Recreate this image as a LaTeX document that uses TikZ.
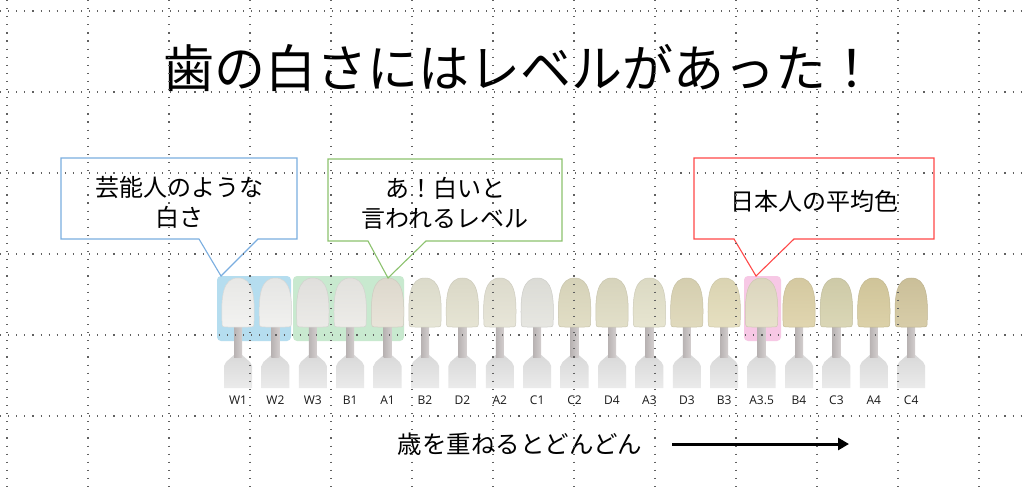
\documentclass[tikz,border=0pt]{standalone}
\usepackage{fontspec}
\setmainfont{Noto Sans CJK JP}
\newfontfamily\labfont{Open Sans}
\usetikzlibrary{arrows.meta}
\definecolor{hlblue}{HTML}{B5DDEF}
\definecolor{hlgreen}{HTML}{C8E9CF}
\definecolor{hlpink}{HTML}{F7C8E5}
\definecolor{cblue}{HTML}{7AAEE0}
\definecolor{cgreen}{HTML}{8CC26E}
\definecolor{cred}{HTML}{FF4848}
\definecolor{stemcol}{HTML}{C8C2C2}
\definecolor{tooth0}{HTML}{F1F1EF}
\definecolor{tooth1}{HTML}{EFEFED}
\definecolor{tooth2}{HTML}{E9E8E5}
\definecolor{tooth3}{HTML}{EBEAE6}
\definecolor{tooth4}{HTML}{E6E1D5}
\definecolor{tooth5}{HTML}{E4E3D2}
\definecolor{tooth6}{HTML}{E3E1CF}
\definecolor{tooth7}{HTML}{E5E3D4}
\definecolor{tooth8}{HTML}{E4E4DE}
\definecolor{tooth9}{HTML}{DEDABF}
\definecolor{tooth10}{HTML}{DFDCC3}
\definecolor{tooth11}{HTML}{E4E2CB}
\definecolor{tooth12}{HTML}{DDD6B6}
\definecolor{tooth13}{HTML}{E3DCB9}
\definecolor{tooth14}{HTML}{E4DEC5}
\definecolor{tooth15}{HTML}{DDD1A7}
\definecolor{tooth16}{HTML}{D6D2AE}
\definecolor{tooth17}{HTML}{D8CC9F}
\definecolor{tooth18}{HTML}{D3C79F}
\tikzset{
  gridline/.style={line width=1.15pt, black!62, dash pattern=on 1.15pt off 6.95pt},
  hlbox/.style={rounded corners=4pt},
  callout/.style={line width=1.1pt},
  ctext/.style={align=center, font=\fontsize{24}{30}\selectfont, inner sep=0pt},
  lbl/.style={font=\labfont\fontsize{12}{14}\selectfont, text=black!90, inner sep=0pt},
  crown/.style={insert path={
    (\cx-16,321) .. controls (\cx-17,296) and (\cx-15,278) .. (\cx,278)
    .. controls (\cx+15,278) and (\cx+17,296) .. (\cx+16,321)
    .. controls (\cx+16,327) .. (\cx+10,327) -- (\cx-10,327)
    .. controls (\cx-16,327) .. (\cx-16,321) -- cycle}},
}
\begin{document}
\begin{tikzpicture}[x=1pt,y=-1pt]
\useasboundingbox (0,0) rectangle (1024,494);
\fill[white] (0,0) rectangle (1024,494);

% title
\node[font=\fontsize{51}{60}\selectfont, inner sep=0pt] (title) at (520,68) {歯の白さにはレベルがあった！};

% highlight boxes
\fill[hlblue, hlbox] (217,276) rectangle (291,341);
\fill[hlgreen, hlbox] (293,276) rectangle (404,341);
\fill[hlpink, hlbox] (744,276) rectangle (781,341);

% teeth
\foreach \i/\nm in {0/W1,1/W2,2/W3,3/B1,4/A1,5/B2,6/D2,7/A2,8/C1,9/C2,10/D4,11/A3,12/D3,13/B3,14/A3.5,15/B4,16/C3,17/A4,18/C4}{
  \pgfmathsetmacro\cx{238+37.4*\i}
  % handle
  \shade[top color=black!15, bottom color=black!8]
    (\cx-4,355) -- (\cx-12,362) -- (\cx-14,366) -- (\cx-14,388) -- (\cx+14,388) -- (\cx+14,366) -- (\cx+12,362) -- (\cx+4,355) -- cycle;
  % stem
  \shade[left color=stemcol!92!black, right color=stemcol!80!white] (\cx-4,326) rectangle (\cx+4,357);
  % crown
  \shade[top color=tooth\i!96!black, middle color=tooth\i!45!white, bottom color=tooth\i!90!white, crown];
  \draw[tooth\i!90!black, line width=0.5pt, crown];
  \node[lbl] (lab\i) at (\cx,400) {\nm};
}

% callouts
\draw[callout, cblue] (61,158) -- (297,158) -- (297,239) -- (258,239) -- (221,276) -- (199,239) -- (61,239) -- cycle;
\node[ctext] (c1) at (179,202) {芸能人のような\\白さ};
\draw[callout, cgreen] (328,159) -- (562,159) -- (562,241) -- (426,241) -- (388,278) -- (368,241) -- (328,241) -- cycle;
\node[ctext] (c2) at (445,203) {あ！白いと\\言われるレベル};
\draw[callout, cred] (694,158) -- (934,158) -- (934,239) -- (794,239) -- (756,276) -- (734,239) -- (694,239) -- cycle;
\node[ctext] (c3) at (814,201) {日本人の平均色};

% bottom text and arrow
\node[font=\fontsize{24.5}{30}\selectfont, inner sep=0pt] (age) at (520,444) {歳を重ねるとどんどん};
\coordinate (arrS) at (672,444);
\coordinate (arrE) at (849,444);
\draw[line width=3pt, -{Triangle[length=11pt,width=12pt]}] (arrS) -- (arrE);

% grid (drawn on top)
\foreach \k in {0,...,12} \draw[gridline] (7+81*\k,0) -- (7+81*\k,494);
\foreach \k in {0,...,5} \draw[gridline] (0,11+81*\k) -- (1024,11+81*\k);
\end{tikzpicture}
\end{document}
